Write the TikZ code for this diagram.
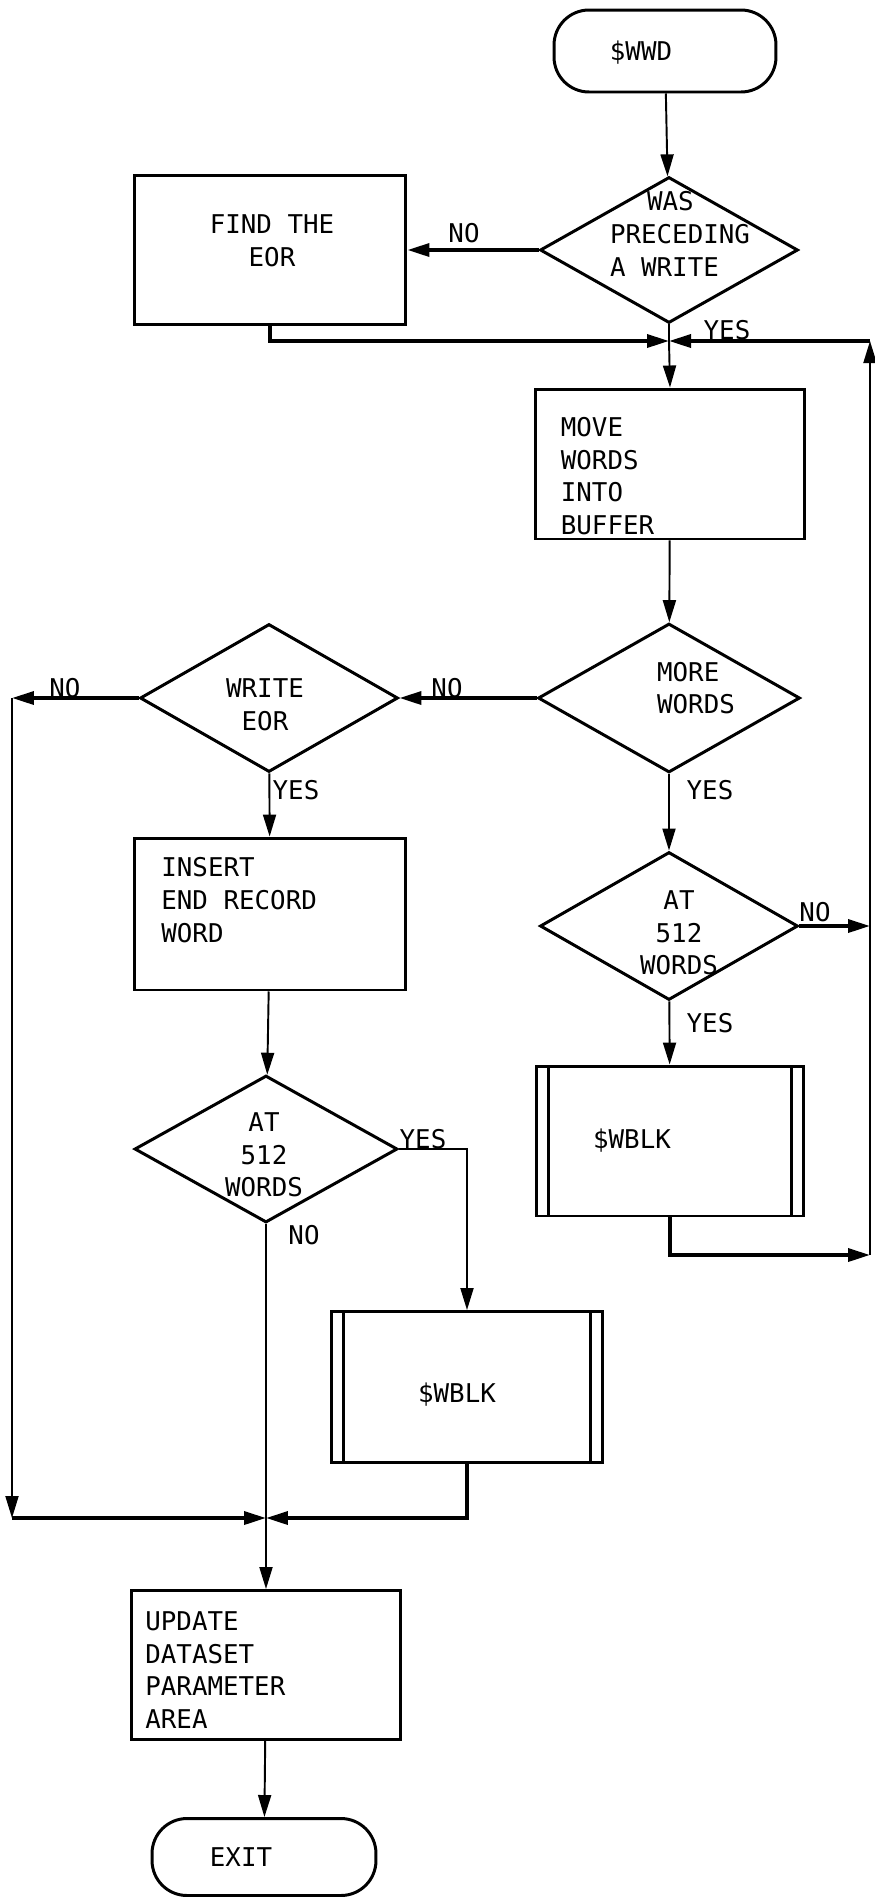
\documentclass[tikz,border=0pt]{standalone}
\usepackage{fontspec}
\setmonofont{DejaVu Sans Mono}
\usetikzlibrary{arrows.meta}
\usetikzlibrary{shapes.geometric}
\tikzset{
  >={Triangle[length=0.44cm,width=0.26cm]},
  txt/.style={font=\ttfamily\fontsize{14.7pt}{18.6pt}\selectfont, inner sep=0pt},
  proc/.style={draw, line width=1.7pt, rectangle, inner sep=0pt},
  term/.style={proc, rounded corners=0.7cm},
  decis/.style={draw, line width=1.7pt, diamond, inner sep=0pt},
  subr/.style={proc, path picture={
      \draw[line width=1.2pt]
        ([xshift=0.24cm]path picture bounding box.north west) -- ([xshift=0.24cm]path picture bounding box.south west)
        ([xshift=-0.24cm]path picture bounding box.north east) -- ([xshift=-0.24cm]path picture bounding box.south east);}},
  conn/.style={line width=1.1pt},
  thkconn/.style={line width=2pt},
  lbl/.style={txt}
}

\begin{document}
\begin{tikzpicture}[x=0.02cm, y=-0.02cm]
      \useasboundingbox (0,0) rectangle (875,1897);
      \node[term, minimum width=4.44cm, minimum height=1.64cm,
            label={[txt, xshift=-0.48cm, yshift=-0.04cm]center:{\$WWD}}] (start) at (665,51) {};
      \node[decis, minimum width=5.16cm, minimum height=2.92cm,
            label={[txt, align=left, xshift=0.22cm, yshift=0.32cm]center:{\hspace*{0.74cm}WAS\\PRECEDING\\A WRITE}}] (prec) at (669,250) {};
      \node[proc, minimum width=5.44cm, minimum height=3cm,
            label={[txt, align=center, xshift=0.04cm, yshift=0.18cm]center:{FIND THE\\EOR}}] (find) at (270,250) {};
      \node[proc, minimum width=5.4cm, minimum height=3cm,
            label={[txt, align=left, anchor=west, xshift=0.54cm, yshift=-0.24cm]west:{MOVE\\WORDS\\INTO\\BUFFER}}] (move) at (670,464) {};
      \node[decis, minimum width=5.24cm, minimum height=2.98cm,
            label={[txt, align=left, xshift=0.54cm, yshift=0.2cm]center:{MORE\\WORDS}}] (more) at (669,698) {};
      \node[decis, minimum width=5.16cm, minimum height=2.96cm,
            label={[txt, align=center, xshift=-0.08cm, yshift=-0.14cm]center:{WRITE\\EOR}}] (weor) at (269,698) {};
      \node[proc, minimum width=5.42cm, minimum height=3.04cm,
            label={[txt, align=left, anchor=west, xshift=0.56cm, yshift=0.28cm]west:{INSERT\\END RECORD\\WORD}}] (ins) at (270,914) {};
      \node[decis, minimum width=5.16cm, minimum height=2.96cm,
            label={[txt, align=center, xshift=0.2cm, yshift=-0.14cm]center:{AT\\512\\WORDS}}] (atr) at (669,926) {};
      \node[subr, minimum width=5.34cm, minimum height=3cm,
            label={[txt, xshift=-0.76cm]center:{\$WBLK}}] (blkr) at (670,1141) {};
      \node[decis, minimum width=5.26cm, minimum height=2.94cm,
            label={[txt, align=center, xshift=-0.04cm, yshift=-0.12cm]center:{AT\\512\\WORDS}}] (atl) at (266,1149) {};
      \node[subr, minimum width=5.42cm, minimum height=3.02cm,
            label={[txt, xshift=-0.2cm, yshift=-0.16cm]center:{\$WBLK}}] (blkl) at (467,1387) {};
      \node[proc, minimum width=5.38cm, minimum height=2.98cm,
            label={[txt, align=left, anchor=west, xshift=0.3cm, yshift=-0.1cm]west:{UPDATE\\DATASET\\PARAMETER\\AREA}}] (upd) at (266,1665) {};
      \node[term, minimum width=4.48cm, minimum height=1.54cm,
            label={[txt, xshift=-0.46cm]center:{EXIT}}] (exit) at (264,1857) {};

      \node[lbl] (no1) at (464,233) {NO};
      \node[lbl] (yes1) at (727,330) {YES};
      \node[lbl] (no2) at (447,688) {NO};
      \node[lbl] (yes2) at (710,790) {YES};
      \node[lbl] (no3) at (65,688) {NO};
      \node[lbl] (yes3) at (296,790) {YES};
      \node[lbl] (no4) at (815,912) {NO};
      \node[lbl] (yes4) at (710,1023) {YES};
      \node[lbl] (yes5) at (423,1139) {YES};
      \node[lbl] (no5) at (304,1235) {NO};

      \coordinate (m1) at (669,341);
      \coordinate (rt) at (870,341);
      \coordinate (rb) at (870,1255);
      \coordinate (lt) at (12,698);
      \coordinate (lb) at (12,1518);
      \coordinate (m2) at (266,1518);

      \draw[conn,->] (start) -- (prec);
      \draw[thkconn,->] (prec.west) -- (find.east);
      \draw[thkconn,->] (find.south) |- (m1);
      \draw[conn] (prec.south) -- (m1);
      \draw[conn,->] (m1) -- (move.north);
      \draw[conn,->] (move) -- (more);
      \draw[thkconn,->] (more.west) -- (weor.east);
      \draw[conn,->] (more) -- (atr);
      \draw[thkconn,->] (atr.east) -- (atr.east -| rt);
      \draw[conn,->] (atr) -- (blkr);
      \draw[thkconn,->] (blkr.south) |- (rb);
      \draw[conn,->] (rb) -- (rt);
      \draw[thkconn,->] (rt) -- (m1);
      \draw[thkconn,->] (weor.west) -- (lt);
      \draw[conn,->] (lt) -- (lb);
      \draw[thkconn,->] (lb) -- (m2);
      \draw[conn,->] (weor) -- (ins);
      \draw[conn,->] (ins) -- (atl);
      \draw[conn,->] (atl.east) -| (blkl.north);
      \draw[conn] (atl.south) -- (m2);
      \draw[thkconn,->] (blkl.south) |- (m2);
      \draw[conn,->] (m2) -- (upd.north);
      \draw[conn,->] (upd) -- (exit);
\end{tikzpicture}
\end{document}
